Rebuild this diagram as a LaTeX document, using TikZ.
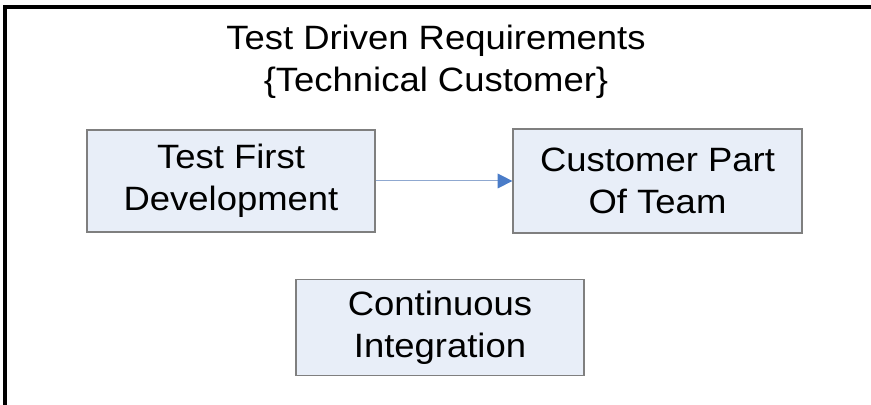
\documentclass[tikz,border=0pt]{standalone}
\usepackage{fontspec}
\setmainfont[FakeStretch=1.08]{Liberation Sans}
\usetikzlibrary{arrows.meta}

\definecolor{boxfill}{HTML}{E8EEF8}
\definecolor{boxline}{HTML}{7F7F7F}
\definecolor{arrline}{HTML}{8FA8D0}
\definecolor{arrhead}{HTML}{4A7CC8}

\begin{document}
\begin{tikzpicture}[x=0.025cm,y=0.025cm,
    txt/.style={font=\fontsize{24}{30}\selectfont, align=center},
    block/.style={txt, draw=boxline, line width=0.8pt, fill=boxfill, minimum width=7.2cm, inner sep=0pt},
    arr/.style={draw=arrline, line width=0.7pt, -{Triangle[length=10.5pt, width=10.5pt, fill=arrhead, color=arrhead]}}]
      \useasboundingbox (0,0) rectangle (871,405);

      \draw[line width=2.2pt] (871,398)--(5,398)--(5,0);

      \node[txt] (title) at (436,343) {Test Driven Requirements\\\{Technical Customer\}};

      \node[block, minimum height=2.55cm] (tfd) at (231,224) {Test First\\Development};
      \node[block, minimum height=2.6cm, minimum width=7.225cm] (cpt) at (657.5,224) {Customer Part\\Of Team};
      \node[block, minimum height=2.4cm] (ci) at (440,77.5) {Continuous\\Integration};

      \draw[arr] (tfd.east)--(cpt.west);
    \end{tikzpicture}
\end{document}
